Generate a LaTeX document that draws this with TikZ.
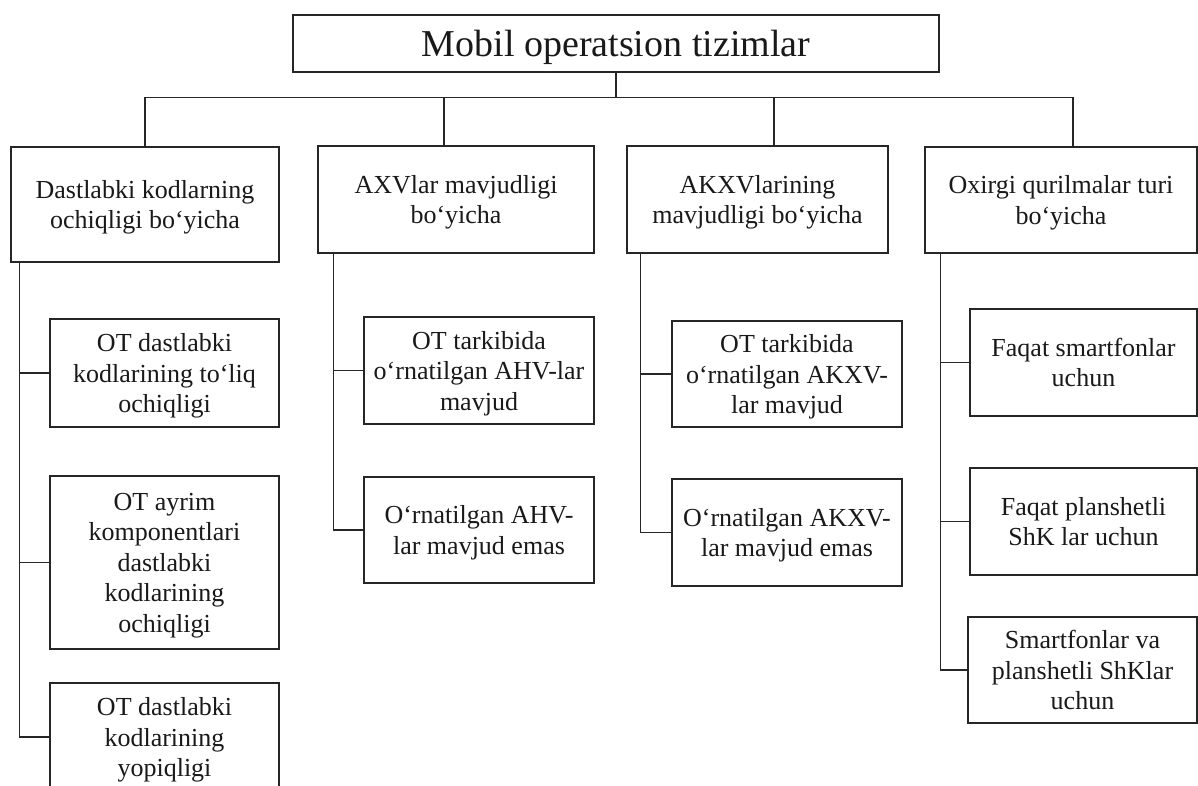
\documentclass[tikz,border=0pt]{standalone}
\usepackage{fontspec}
\setmainfont{Liberation Serif}
\tikzset{
  box/.style={draw=black!85, line width=1.3pt, align=center, inner sep=0pt,
    text depth=0pt, text=black!90, font=\fontsize{26}{30.5}\selectfont},
  wh/.style 2 args={minimum width=#1, minimum height=#2},
  link/.style={draw=black!85, line width=1.4pt},
}

\begin{document}
\begin{tikzpicture}[x=1pt,y=-1pt]
      \useasboundingbox (0,0) rectangle (1198,785);

      \node[box, wh={646}{57}, text height=32pt, text depth=6pt, font=\fontsize{38}{44}\selectfont] (root) at (616,43.5) {Mobil operatsion tizimlar};

      \node[box, wh={268}{115}] (b1) at (145,204.5) {Dastlabki kodlarning\\ochiqligi bo‘yicha};
      \node[box, wh={276}{107}] (b2) at (456,199.5) {AXVlar mavjudligi\\bo‘yicha};
      \node[box, wh={261}{107}] (b3) at (757.5,199.5) {AKXVlarining\\mavjudligi bo‘yicha};
      \node[box, wh={272}{106}] (b4) at (1061,200) {Oxirgi qurilmalar turi\\bo‘yicha};

      \node[box, wh={229}{108}] (c11) at (164.5,373) {OT dastlabki\\kodlarining to‘liq\\ochiqligi};
      \node[box, wh={229}{173}] (c12) at (164.5,562.5) {OT ayrim\\komponentlari\\dastlabki\\kodlarining\\ochiqligi};
      \node[box, wh={229}{108}] (c13) at (164.5,737) {OT dastlabki\\kodlarining\\yopiqligi};

      \node[box, wh={230}{107}] (c21) at (479,370.5) {OT tarkibida\\o‘rnatilgan AHV-lar\\mavjud};
      \node[box, wh={230}{106}] (c22) at (479,530) {O‘rnatilgan AHV-\\lar mavjud emas};

      \node[box, wh={230}{106}] (c31) at (787,374) {OT tarkibida\\o‘rnatilgan AKXV-\\lar mavjud};
      \node[box, wh={230}{107}] (c32) at (787,532.5) {O‘rnatilgan AKXV-\\lar mavjud emas};

      \node[box, wh={227}{107}] (c41) at (1083.5,362.5) {Faqat smartfonlar\\uchun};
      \node[box, wh={227}{107}] (c42) at (1083.5,521.5) {Faqat planshetli\\ShK lar uchun};
      \node[box, wh={229}{106}] (c43) at (1082.5,670) {Smartfonlar va\\planshetli ShKlar\\uchun};

      \draw[link] (root.south) -- ++(0,25) coordinate (bus);
      \draw[link] (b1.north) -- (b1.north |- bus) -- ([xshift=12pt]b4.north |- bus) -- ([xshift=12pt]b4.north);
      \draw[link] ([xshift=-12pt]b2.north) -- ([xshift=-12pt]b2.north |- bus);
      \draw[link] ([xshift=16.5pt]b3.north) -- ([xshift=16.5pt]b3.north |- bus);

      \draw[link] ([xshift=9pt]b1.south west) coordinate (t1) |- (c13.west);
      \draw[link] (c11.west) -- (c11.west -| t1);
      \draw[link] (c12.west) -- (c12.west -| t1);

      \draw[link] ([xshift=16pt]b2.south west) coordinate (t2) |- (c22.west);
      \draw[link] (c21.west) -- (c21.west -| t2);

      \draw[link] ([xshift=14pt]b3.south west) coordinate (t3) |- (c32.west);
      \draw[link] (c31.west) -- (c31.west -| t3);

      \draw[link] ([xshift=16pt]b4.south west) coordinate (t4) |- (c43.west);
      \draw[link] (c41.west) -- (c41.west -| t4);
      \draw[link] (c42.west) -- (c42.west -| t4);
\end{tikzpicture}
\end{document}
